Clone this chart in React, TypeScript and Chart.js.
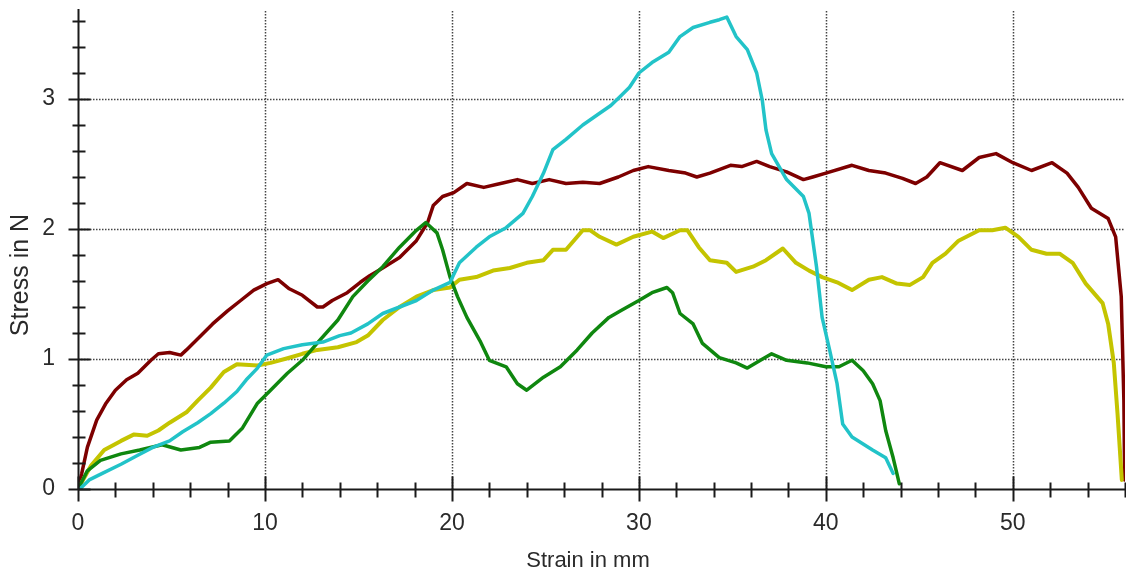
import React, { useEffect, useRef } from "react";
import { Chart, registerables } from "chart.js";

Chart.register(...registerables);

// ---------- data ----------
const xTickLabels = ["0", "10", "20", "30", "40", "50"];
const yTickLabels = ["0", "1", "2", "3"];
const xAxisTitle = "Strain in mm";
const yAxisTitle = "Stress in N";

const redStrain = [0, 0.2, 0.5, 1.0, 1.5, 2.0, 2.6, 3.2, 3.9, 4.3, 4.9, 5.5, 5.8, 6.5, 7.2, 8.0, 8.7, 9.4, 10.1, 10.7, 11.3, 12.0, 12.8, 13.1, 13.6, 14.4, 15.1, 15.6, 16.3, 17.2, 18.1, 18.7, 19.0, 19.5, 20.1, 20.8, 21.7, 22.6, 23.5, 24.3, 25.2, 26.1, 27.0, 27.9, 28.9, 29.7, 30.5, 31.6, 32.5, 33.1, 33.8, 34.9, 35.5, 36.3, 37.0, 37.9, 38.8, 39.3, 40.0, 41.4, 42.3, 43.2, 44.1, 44.8, 45.4, 46.1, 47.3, 48.2, 49.1, 50.0, 51.0, 52.1, 52.9, 53.5, 54.2, 55.1, 55.5, 55.8, 55.94, 55.98];
const redStress = [0, 0.12, 0.32, 0.53, 0.66, 0.76, 0.84, 0.89, 0.99, 1.04, 1.05, 1.03, 1.07, 1.17, 1.27, 1.37, 1.45, 1.53, 1.58, 1.61, 1.54, 1.49, 1.40, 1.40, 1.45, 1.51, 1.59, 1.64, 1.70, 1.78, 1.91, 2.05, 2.18, 2.25, 2.28, 2.35, 2.32, 2.35, 2.38, 2.35, 2.38, 2.35, 2.36, 2.35, 2.40, 2.45, 2.48, 2.45, 2.43, 2.40, 2.43, 2.49, 2.48, 2.52, 2.48, 2.44, 2.38, 2.40, 2.43, 2.49, 2.45, 2.43, 2.39, 2.35, 2.40, 2.51, 2.45, 2.55, 2.58, 2.51, 2.45, 2.51, 2.43, 2.32, 2.16, 2.08, 1.94, 1.48, 0.68, 0.07];

const cyanStrain = [0.1, 0.6, 1.3, 2.3, 3.2, 4.0, 4.9, 5.6, 6.4, 7.1, 7.8, 8.5, 9.0, 9.6, 10.1, 11.0, 12.0, 13.1, 14.0, 14.6, 15.5, 16.3, 17.2, 18.1, 19.0, 19.9, 20.4, 21.3, 22.0, 22.9, 23.8, 24.3, 24.9, 25.4, 26.1, 27.0, 27.9, 28.5, 29.0, 29.5, 30.0, 30.7, 31.6, 32.2, 32.9, 33.8, 34.3, 34.7, 35.2, 35.8, 36.3, 36.6, 36.8, 37.1, 37.9, 38.8, 39.1, 39.5, 39.8, 40.2, 40.6, 40.9, 41.4, 42.5, 43.2, 43.6];
const cyanStress = [0, 0.07, 0.12, 0.19, 0.26, 0.32, 0.37, 0.44, 0.51, 0.58, 0.66, 0.75, 0.84, 0.93, 1.03, 1.08, 1.11, 1.13, 1.18, 1.20, 1.27, 1.35, 1.40, 1.45, 1.53, 1.59, 1.74, 1.86, 1.94, 2.01, 2.12, 2.25, 2.43, 2.61, 2.69, 2.80, 2.89, 2.95, 3.02, 3.09, 3.20, 3.28, 3.36, 3.48, 3.55, 3.59, 3.61, 3.63, 3.48, 3.38, 3.20, 2.99, 2.76, 2.58, 2.38, 2.25, 2.12, 1.71, 1.32, 1.07, 0.81, 0.50, 0.40, 0.30, 0.24, 0.12];

const yellowStrain = [0, 0.7, 1.4, 2.3, 3.0, 3.7, 4.3, 4.9, 5.8, 6.4, 7.1, 7.8, 8.5, 9.6, 10.3, 11.3, 12.0, 12.8, 13.9, 14.9, 15.5, 16.3, 17.2, 18.1, 19.0, 19.9, 20.4, 21.3, 22.2, 23.1, 24.0, 24.9, 25.4, 26.1, 27.0, 27.4, 27.9, 28.8, 29.7, 30.7, 31.3, 32.2, 32.6, 33.2, 33.8, 34.7, 35.2, 36.1, 36.8, 37.7, 38.4, 39.1, 39.8, 40.6, 41.4, 42.3, 43.0, 43.8, 44.5, 45.2, 45.7, 46.4, 47.1, 48.2, 48.9, 49.6, 50.3, 51.0, 51.8, 52.5, 53.2, 53.9, 54.8, 55.1, 55.4, 55.6, 55.83];
const yellowStress = [0, 0.18, 0.30, 0.37, 0.42, 0.41, 0.45, 0.51, 0.59, 0.68, 0.78, 0.90, 0.96, 0.95, 0.97, 1.01, 1.04, 1.07, 1.09, 1.13, 1.18, 1.30, 1.40, 1.48, 1.53, 1.55, 1.61, 1.63, 1.68, 1.70, 1.74, 1.76, 1.84, 1.84, 1.99, 1.99, 1.94, 1.88, 1.94, 1.98, 1.93, 1.99, 1.99, 1.86, 1.76, 1.74, 1.67, 1.71, 1.76, 1.85, 1.74, 1.68, 1.63, 1.59, 1.53, 1.61, 1.63, 1.58, 1.57, 1.63, 1.74, 1.81, 1.91, 1.99, 1.99, 2.01, 1.94, 1.84, 1.81, 1.81, 1.74, 1.58, 1.43, 1.27, 0.97, 0.58, 0.07];

const greenStrain = [0, 0.5, 1.2, 2.3, 3.3, 4.5, 5.5, 6.5, 7.1, 8.1, 8.8, 9.6, 10.3, 11.2, 12.0, 12.9, 13.9, 14.7, 15.5, 16.3, 17.2, 18.1, 18.6, 19.2, 19.5, 19.9, 20.3, 20.8, 21.5, 22.0, 22.9, 23.5, 24.0, 24.9, 25.8, 26.7, 27.5, 28.4, 29.0, 30.0, 30.7, 31.5, 31.8, 32.2, 32.9, 33.4, 34.3, 35.2, 35.8, 36.5, 37.1, 37.9, 39.0, 40.0, 40.7, 41.4, 42.0, 42.5, 42.9, 43.2, 43.6, 43.93];
const greenStress = [0, 0.14, 0.22, 0.27, 0.30, 0.34, 0.30, 0.32, 0.36, 0.37, 0.47, 0.66, 0.76, 0.89, 0.99, 1.14, 1.30, 1.48, 1.60, 1.71, 1.86, 1.99, 2.05, 1.97, 1.84, 1.63, 1.48, 1.32, 1.14, 0.99, 0.94, 0.81, 0.76, 0.86, 0.94, 1.07, 1.20, 1.32, 1.37, 1.45, 1.51, 1.55, 1.51, 1.35, 1.27, 1.12, 1.01, 0.97, 0.93, 0.99, 1.04, 0.99, 0.97, 0.94, 0.94, 0.99, 0.91, 0.81, 0.68, 0.45, 0.24, 0.04];

const X_MIN = 0;
const X_MAX = 56;
const Y_MIN = 0;
const Y_MAX = 3.7;

const toPoints = (xs: number[], ys: number[]) => xs.map((x, i) => ({ x, y: ys[i] }));

const FONT = '"Liberation Sans", Arial, sans-serif';
const TEXT_COLOR = "#2a2a2a";

const axesPlugin = {
  id: "customAxes",
  beforeDatasetsDraw(chart: any) {
    const { ctx, chartArea, scales } = chart;
    const xs = scales.x;
    const ys = scales.y;
    ctx.save();
    ctx.strokeStyle = "#444444";
    ctx.lineWidth = 1.5;
    ctx.setLineDash([1.5, 1.5]);
    for (const lbl of xTickLabels) {
      const v = Number(lbl);
      if (v === 0) continue;
      const px = Math.round(xs.getPixelForValue(v)) + 0.5;
      ctx.beginPath();
      ctx.moveTo(px, chartArea.top + 3);
      ctx.lineTo(px, chartArea.bottom);
      ctx.stroke();
    }
    for (const lbl of yTickLabels) {
      const v = Number(lbl);
      if (v === 0) continue;
      const py = Math.round(ys.getPixelForValue(v)) + 0.5;
      ctx.beginPath();
      ctx.moveTo(chartArea.left, py);
      ctx.lineTo(chartArea.right, py);
      ctx.stroke();
    }
    ctx.restore();
  },
  afterDatasetsDraw(chart: any) {
    const { ctx, chartArea, scales } = chart;
    const xs = scales.x;
    const ys = scales.y;
    const x0 = Math.round(xs.getPixelForValue(X_MIN)) + 0.5;
    const y0 = Math.round(ys.getPixelForValue(Y_MIN)) + 0.5;
    ctx.save();
    ctx.setLineDash([]);
    ctx.strokeStyle = "#1a1a1a";
    ctx.lineWidth = 2;
    // axis lines
    ctx.beginPath();
    ctx.moveTo(chartArea.left, y0);
    ctx.lineTo(chartArea.right, y0);
    ctx.moveTo(x0, chartArea.bottom);
    ctx.lineTo(x0, chartArea.top + 1);
    ctx.stroke();
    // x ticks
    for (let v = X_MIN; v <= X_MAX + 1e-9; v += 2) {
      const major = Math.abs(v % 10) < 1e-9;
      const px = Math.round(xs.getPixelForValue(v)) + 0.5;
      ctx.beginPath();
      ctx.moveTo(px, y0 - (major ? 13 : 7));
      ctx.lineTo(px, y0 + (major ? 12 : 8));
      ctx.stroke();
    }
    // y ticks
    for (let i = 0; i * 0.2 <= Y_MAX + 1e-9; i++) {
      const v = i * 0.2;
      const major = i % 5 === 0;
      const py = Math.round(ys.getPixelForValue(v)) + 0.5;
      ctx.beginPath();
      ctx.moveTo(x0 - (major ? 10 : 6), py);
      ctx.lineTo(x0 + (major ? 12 : 7), py);
      ctx.stroke();
    }
    // axis titles
    ctx.fillStyle = TEXT_COLOR;
    ctx.textAlign = "center";
    ctx.textBaseline = "middle";
    ctx.font = `22px ${FONT}`;
    ctx.fillText(xAxisTitle, 588, 561);
    ctx.translate(21, 275);
    ctx.rotate(-Math.PI / 2);
    ctx.font = `25px ${FONT}`;
    ctx.fillText(yAxisTitle, 0, 0);
    ctx.restore();
  },
};

export default function App() {
  const canvasRef = useRef<HTMLCanvasElement | null>(null);

  useEffect(() => {
    if (!canvasRef.current) return;
    const chart = new Chart(canvasRef.current, {
      type: "line",
      data: {
        datasets: [
          { label: "cyan", data: toPoints(cyanStrain, cyanStress), borderColor: "#22c3c8", borderWidth: 3.5 },
          { label: "green", data: toPoints(greenStrain, greenStress), borderColor: "#0f870f", borderWidth: 3.5 },
          { label: "yellow", data: toPoints(yellowStrain, yellowStress), borderColor: "#c4c400", borderWidth: 4 },
          { label: "red", data: toPoints(redStrain, redStress), borderColor: "#7d0000", borderWidth: 3.5 },
        ],
      },
      options: {
        animation: false,
        responsive: true,
        maintainAspectRatio: false,
        parsing: false as any,
        elements: {
          point: { radius: 0, hoverRadius: 0 },
          line: { tension: 0, borderJoinStyle: "round", borderCapStyle: "round", fill: false },
        },
        layout: { padding: { top: 8, right: 1, left: 0, bottom: 0 } },
        plugins: {
          legend: { display: false },
          tooltip: { enabled: false },
          title: { display: false },
        },
        scales: {
          x: {
            type: "linear",
            min: X_MIN,
            max: X_MAX,
            grid: { display: false, drawTicks: false },
            border: { display: false },
            ticks: {
              stepSize: 10,
              maxRotation: 0,
              autoSkip: false,
              padding: 21,
              color: TEXT_COLOR,
              font: { size: 23, family: FONT },
              callback: (v: any) => (xTickLabels.includes(String(v)) ? String(v) : ""),
            },
            afterFit: (s: any) => {
              s.height = 82;
              s.paddingLeft = 0;
              s.paddingRight = 0;
            },
          },
          y: {
            type: "linear",
            min: Y_MIN,
            max: Y_MAX,
            grid: { display: false, drawTicks: false },
            border: { display: false },
            ticks: {
              stepSize: 1,
              autoSkip: false,
              padding: 23,
              color: TEXT_COLOR,
              font: { size: 23, family: FONT },
              callback: (v: any) => (yTickLabels.includes(String(v)) ? String(v) : ""),
            },
            afterFit: (s: any) => {
              s.width = 78;
              s.paddingTop = 0;
              s.paddingBottom = 0;
            },
          },
        },
      },
      plugins: [axesPlugin],
    });
    return () => chart.destroy();
  }, []);

  return (
    <div style={{ position: "fixed", left: 0, top: 0, width: 1126, height: 571, background: "#fff" }}>
      <canvas ref={canvasRef} />
    </div>
  );
}
